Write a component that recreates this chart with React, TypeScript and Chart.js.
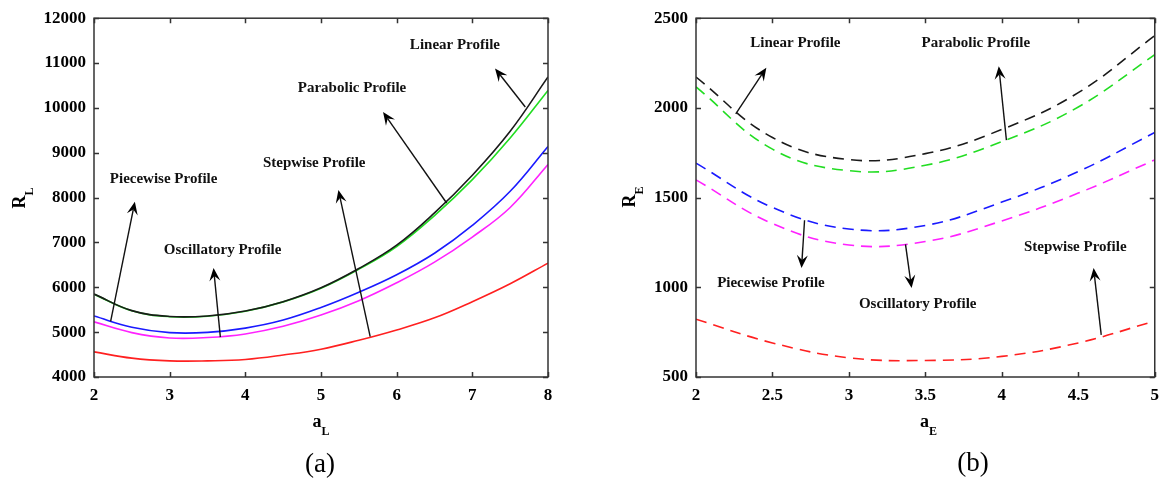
import React, { useEffect, useRef } from 'react';
import { Chart, registerables } from 'chart.js';

Chart.register(...registerables);

const SERIF = "'Liberation Serif', 'Times New Roman', Times, serif";

// ---------------- Panel (a) data ----------------
const aL = [2, 2.5, 3, 3.5, 4, 4.5, 5, 5.5, 6, 6.5, 7, 7.5, 8];
const linearA = [5850, 5480, 5350, 5360, 5470, 5680, 5990, 6420, 6940, 7660, 8500, 9480, 10690];
const parabolicA = [5845, 5475, 5345, 5355, 5465, 5675, 5980, 6405, 6910, 7600, 8400, 9330, 10390];
const piecewiseA = [5360, 5110, 4990, 4995, 5090, 5270, 5550, 5890, 6280, 6760, 7380, 8140, 9140];
const oscillatoryA = [5230, 4990, 4870, 4880, 4960, 5130, 5380, 5700, 6100, 6560, 7120, 7780, 8740];
const stepwiseA = [4560, 4420, 4360, 4360, 4390, 4490, 4620, 4820, 5050, 5320, 5680, 6080, 6540];
const xTicksA = [2, 3, 4, 5, 6, 7, 8];
const yTicksA = [4000, 5000, 6000, 7000, 8000, 9000, 10000, 11000, 12000];

const annoNamesA = ['Linear Profile', 'Parabolic Profile', 'Stepwise Profile', 'Piecewise Profile', 'Oscillatory Profile'];
const annoTextXA = [6.77, 5.41, 4.91, 2.92, 3.7];
const annoTextYA = [11400, 10430, 8770, 8410, 6830];
const arrowFromXA = [7.7, 6.66, 5.65, 2.22, 3.67];
const arrowFromYA = [10020, 7880, 4900, 5240, 4890];
const arrowToXA = [7.3, 5.82, 5.23, 2.54, 3.58];
const arrowToYA = [10880, 9910, 8170, 7910, 6430];

// ---------------- Panel (b) data ----------------
const aE = [2, 2.5, 3, 3.5, 4, 4.5, 5];
const linearB = [2172, 1835, 1712, 1745, 1880, 2085, 2403];
const parabolicB = [2117, 1770, 1650, 1680, 1812, 2005, 2297];
const piecewiseB = [1692, 1445, 1325, 1345, 1475, 1645, 1863];
const oscillatoryB = [1599, 1355, 1236, 1255, 1370, 1525, 1710];
const stepwiseB = [822, 690, 607, 592, 615, 690, 812];
const xTicksB = [2, 2.5, 3, 3.5, 4, 4.5, 5];
const yTicksB = [500, 1000, 1500, 2000, 2500];

const annoNamesB = ['Linear Profile', 'Parabolic Profile', 'Piecewise Profile', 'Oscillatory Profile', 'Stepwise Profile'];
const annoTextXB = [2.65, 3.83, 2.49, 3.45, 4.48];
const annoTextYB = [2363, 2361, 1024, 908, 1225];
const arrowFromXB = [2.26, 4.03, 2.71, 3.37, 4.65];
const arrowFromYB = [1967, 1820, 1374, 1239, 735];
const arrowToXB = [2.46, 3.98, 2.69, 3.41, 4.6];
const arrowToYB = [2224, 2232, 1107, 996, 1107];

const seriesColors = ['#1a1a1a', '#22dd22', '#1a1aff', '#ff22ff', '#ff2020'];

type PanelCfg = {
  id: string;
  xs: number[];
  series: number[][];
  xTicks: number[];
  yTicks: number[];
  dashed: boolean;
  yAxisWidth: number;
  padRight: number;
  padTop: number;
  xAxisHeight: number;
  yTitleBaseX: number;
  yTitleCenterY: number;
  xTitleCenterX: number;
  xTitleBaseY: number;
  yMain: string;
  sub: string;
  xMain: string;
  caption: string;
  captionX: number;
  captionY: number;
  names: string[];
  tx: number[];
  ty: number[];
  fx: number[];
  fy: number[];
  ex: number[];
  ey: number[];
};

function drawSub(ctx: CanvasRenderingContext2D, main: string, sub: string, x: number, y: number, rotated: boolean) {
  ctx.save();
  ctx.fillStyle = '#000';
  ctx.textBaseline = 'alphabetic';
  ctx.textAlign = 'left';
  const mainFont = `bold 18px ${SERIF}`;
  const subFont = `bold 12px ${SERIF}`;
  ctx.font = mainFont;
  const wm = ctx.measureText(main).width;
  ctx.font = subFont;
  const ws = ctx.measureText(sub).width;
  const w = wm + ws;
  ctx.translate(x, y);
  if (rotated) ctx.rotate(-Math.PI / 2);
  ctx.font = mainFont;
  ctx.fillText(main, -w / 2, 0);
  ctx.font = subFont;
  ctx.fillText(sub, -w / 2 + wm, 8);
  ctx.restore();
}

function drawArrow(ctx: CanvasRenderingContext2D, x0: number, y0: number, x1: number, y1: number) {
  const dx = x1 - x0;
  const dy = y1 - y0;
  const len = Math.hypot(dx, dy);
  const ux = dx / len;
  const uy = dy / len;
  const px = -uy;
  const py = ux;
  const L = 13;
  const W = 5.5;
  const notch = 0.62;
  ctx.save();
  ctx.strokeStyle = '#111';
  ctx.fillStyle = '#000';
  ctx.lineWidth = 1.4;
  ctx.beginPath();
  ctx.moveTo(x0, y0);
  ctx.lineTo(x1 - ux * L * notch, y1 - uy * L * notch);
  ctx.stroke();
  ctx.beginPath();
  ctx.moveTo(x1, y1);
  ctx.lineTo(x1 - ux * L + px * W, y1 - uy * L + py * W);
  ctx.lineTo(x1 - ux * L * notch, y1 - uy * L * notch);
  ctx.lineTo(x1 - ux * L - px * W, y1 - uy * L - py * W);
  ctx.closePath();
  ctx.fill();
  ctx.restore();
}

function makeChart(canvas: HTMLCanvasElement, p: PanelCfg) {
  const overlay = {
    id: 'overlay_' + p.id,
    afterDraw(chart: any) {
      const { ctx, chartArea: ca, scales } = chart;
      const sx = scales.x;
      const sy = scales.y;
      ctx.save();
      // frame
      ctx.strokeStyle = '#333';
      ctx.lineWidth = 1.5;
      ctx.strokeRect(ca.left, ca.top, ca.right - ca.left, ca.bottom - ca.top);
      // inward ticks on all sides
      ctx.beginPath();
      const tl = 5;
      p.xTicks.forEach((v) => {
        const px = Math.round(sx.getPixelForValue(v)) + 0.5;
        ctx.moveTo(px, ca.bottom);
        ctx.lineTo(px, ca.bottom - tl);
        ctx.moveTo(px, ca.top);
        ctx.lineTo(px, ca.top + tl);
      });
      p.yTicks.forEach((v) => {
        const py = Math.round(sy.getPixelForValue(v)) + 0.5;
        ctx.moveTo(ca.left, py);
        ctx.lineTo(ca.left + tl, py);
        ctx.moveTo(ca.right, py);
        ctx.lineTo(ca.right - tl, py);
      });
      ctx.stroke();
      ctx.restore();

      // axis titles
      drawSub(ctx, p.yMain, p.sub, p.yTitleBaseX, p.yTitleCenterY, true);
      drawSub(ctx, p.xMain, p.sub, p.xTitleCenterX, p.xTitleBaseY, false);

      // caption
      ctx.save();
      ctx.fillStyle = '#000';
      ctx.font = `27px ${SERIF}`;
      ctx.textAlign = 'center';
      ctx.textBaseline = 'alphabetic';
      ctx.fillText(p.caption, p.captionX, p.captionY);
      ctx.restore();

      // annotations
      ctx.save();
      ctx.fillStyle = '#111';
      ctx.font = `bold 15px ${SERIF}`;
      ctx.textAlign = 'center';
      ctx.textBaseline = 'middle';
      p.names.forEach((name, i) => {
        ctx.fillText(name, sx.getPixelForValue(p.tx[i]), sy.getPixelForValue(p.ty[i]));
        drawArrow(
          ctx,
          sx.getPixelForValue(p.fx[i]),
          sy.getPixelForValue(p.fy[i]),
          sx.getPixelForValue(p.ex[i]),
          sy.getPixelForValue(p.ey[i])
        );
      });
      ctx.restore();
    },
  };

  const tickFont = { family: SERIF, size: 17, weight: 'bold' as const };

  return new Chart(canvas, {
    type: 'line',
    data: {
      datasets: p.series.map((vals, i) => ({
        data: p.xs.map((x, j) => ({ x, y: vals[j] })),
        borderColor: seriesColors[i],
        backgroundColor: seriesColors[i],
        borderWidth: 1.6,
        borderDash: p.dashed ? [11, 7] : [],
        pointRadius: 0,
        tension: 0.4,
        fill: false,
      })),
    },
    options: {
      responsive: false,
      animation: false,
      devicePixelRatio: 1,
      layout: { padding: { left: 0, right: p.padRight, top: p.padTop, bottom: 0 } },
      plugins: { legend: { display: false }, tooltip: { enabled: false } },
      events: [],
      scales: {
        x: {
          type: 'linear',
          min: p.xTicks[0],
          max: p.xTicks[p.xTicks.length - 1],
          grid: { display: false, drawTicks: false },
          border: { display: false },
          afterBuildTicks: (s: any) => {
            s.ticks = p.xTicks.map((v) => ({ value: v }));
          },
          afterFit: (s: any) => {
            s.height = p.xAxisHeight;
          },
          ticks: {
            font: tickFont,
            color: '#000',
            padding: 8,
            maxRotation: 0,
            autoSkip: false,
            callback: (v: any) => String(v),
          },
        },
        y: {
          type: 'linear',
          min: p.yTicks[0],
          max: p.yTicks[p.yTicks.length - 1],
          grid: { display: false, drawTicks: false },
          border: { display: false },
          afterBuildTicks: (s: any) => {
            s.ticks = p.yTicks.map((v) => ({ value: v }));
          },
          afterFit: (s: any) => {
            s.width = p.yAxisWidth;
          },
          ticks: {
            font: tickFont,
            color: '#000',
            padding: 8,
            autoSkip: false,
            callback: (v: any) => String(v),
          },
        },
      },
    },
    plugins: [overlay],
  } as any);
}

const panelA: PanelCfg = {
  id: 'a',
  xs: aL,
  series: [linearA, parabolicA, piecewiseA, oscillatoryA, stepwiseA],
  xTicks: xTicksA,
  yTicks: yTicksA,
  dashed: false,
  yAxisWidth: 94,
  padRight: 42,
  padTop: 18,
  xAxisHeight: 101,
  yTitleBaseX: 25,
  yTitleCenterY: 198,
  xTitleCenterX: 321,
  xTitleBaseY: 427,
  yMain: 'R',
  sub: 'L',
  xMain: 'a',
  caption: '(a)',
  captionX: 320,
  captionY: 472,
  names: annoNamesA,
  tx: annoTextXA,
  ty: annoTextYA,
  fx: arrowFromXA,
  fy: arrowFromYA,
  ex: arrowToXA,
  ey: arrowToYA,
};

const panelB: PanelCfg = {
  id: 'b',
  xs: aE,
  series: [linearB, parabolicB, piecewiseB, oscillatoryB, stepwiseB],
  xTicks: xTicksB,
  yTicks: yTicksB,
  dashed: true,
  yAxisWidth: 106,
  padRight: 6,
  padTop: 13,
  xAxisHeight: 101,
  yTitleBaseX: 45,
  yTitleCenterY: 197,
  xTitleCenterX: 338.5,
  xTitleBaseY: 427,
  yMain: 'R',
  sub: 'E',
  xMain: 'a',
  caption: '(b)',
  captionX: 383,
  captionY: 471,
  names: annoNamesB,
  tx: annoTextXB,
  ty: annoTextYB,
  fx: arrowFromXB,
  fy: arrowFromYB,
  ex: arrowToXB,
  ey: arrowToYB,
};

export default function App() {
  const refA = useRef<HTMLCanvasElement>(null);
  const refB = useRef<HTMLCanvasElement>(null);

  useEffect(() => {
    const ca = makeChart(refA.current!, panelA);
    const cb = makeChart(refB.current!, panelB);
    return () => {
      ca.destroy();
      cb.destroy();
    };
  }, []);

  return (
    <div style={{ position: 'fixed', left: 0, top: 0, width: 1167, height: 478, background: '#fff' }}>
      <canvas ref={refA} width={590} height={478} style={{ position: 'absolute', left: 0, top: 0, width: 590, height: 478 }} />
      <canvas ref={refB} width={577} height={478} style={{ position: 'absolute', left: 590, top: 0, width: 577, height: 478 }} />
    </div>
  );
}
